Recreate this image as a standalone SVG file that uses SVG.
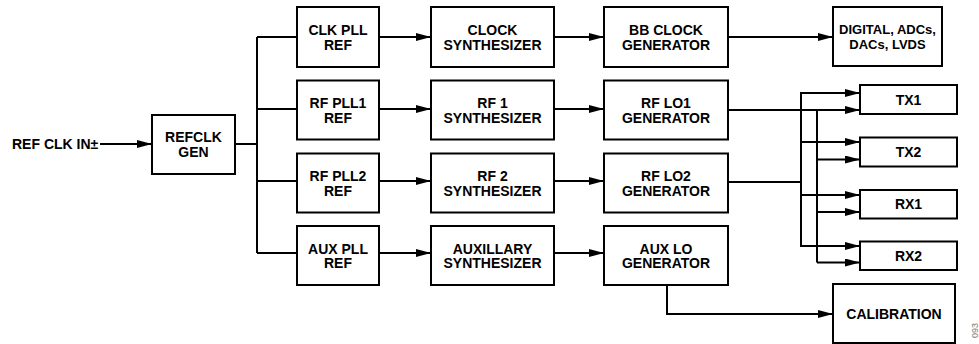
<svg xmlns="http://www.w3.org/2000/svg" width="979" height="344" viewBox="0 0 979 344">
  <style>
    .box { fill: #fff; stroke: #000; stroke-width: 2; }
    .lbl { font-family: "Liberation Sans", Arial, sans-serif; font-weight: bold; font-size: 14px; fill: #000; text-anchor: middle; }
    .sm { font-size: 13px; }
    .in { font-family: "Liberation Sans", Arial, sans-serif; font-weight: bold; font-size: 14px; fill: #000; }
    .wire { fill: none; stroke: #000; stroke-width: 2; }
    .arr { fill: none; stroke: #000; stroke-width: 2; marker-end: url(#ah); }
    .code { font-family: "Liberation Sans", Arial, sans-serif; font-size: 9px; fill: #777; text-anchor: end; }
  </style>
  <defs>
    <marker id="ah" markerUnits="userSpaceOnUse" markerWidth="15" markerHeight="8" refX="15" refY="4" orient="auto">
      <path d="M0,0 L15,4 L0,8 Z" fill="#000"/>
    </marker>
  </defs>
  <rect width="979" height="344" fill="#fff"/>

  <g id="connectors">
    <path class="arr" d="M100,144 H152"/>
    <path class="wire" d="M235,144 H257"/>
    <path class="wire" d="M257,37 V253"/>
    <path class="wire" d="M257,37 H297"/>
    <path class="wire" d="M257,109 H297"/>
    <path class="wire" d="M257,181 H297"/>
    <path class="wire" d="M257,253 H297"/>
    <path class="arr" d="M379,37 H431"/>
    <path class="arr" d="M379,109 H431"/>
    <path class="arr" d="M379,181 H431"/>
    <path class="arr" d="M379,253 H431"/>
    <path class="arr" d="M554,37 H604"/>
    <path class="arr" d="M554,109 H604"/>
    <path class="arr" d="M554,181 H604"/>
    <path class="arr" d="M554,253 H604"/>
    <path class="arr" d="M728,37 H833"/>
    <!-- RF LO1 -->
    <path class="arr" d="M728,110 H860"/>
    <path class="wire" d="M817,110 V262.5"/>
    <path class="arr" d="M817,159.5 H860"/>
    <path class="arr" d="M817,212 H860"/>
    <path class="arr" d="M817,262.5 H860"/>
    <!-- RF LO2 -->
    <path class="wire" d="M728,182 H801"/>
    <path class="wire" d="M801,93 V246"/>
    <path class="arr" d="M800,93 H860"/>
    <path class="arr" d="M800,142 H860"/>
    <path class="arr" d="M800,195 H860"/>
    <path class="arr" d="M800,246 H860"/>
    <!-- AUX LO to calibration -->
    <path class="arr" d="M667,285 V314 H833"/>
  </g>

  <text class="in" x="12" y="149">REF CLK IN±</text>

  <g id="refclk-gen">
    <rect class="box" x="152" y="115" width="83" height="59"/>
    <text class="lbl" x="193.5" y="142">REFCLK</text>
    <text class="lbl" x="193.5" y="156.5">GEN</text>
  </g>

  <g id="clk-pll-ref">
    <rect class="box" x="297" y="7" width="82" height="60"/>
    <text class="lbl" x="338" y="35">CLK PLL</text>
    <text class="lbl" x="338" y="49.5">REF</text>
  </g>
  <g id="rf-pll1-ref">
    <rect class="box" x="297" y="80.5" width="82" height="59"/>
    <text class="lbl" x="338" y="108">RF PLL1</text>
    <text class="lbl" x="338" y="122.5">REF</text>
  </g>
  <g id="rf-pll2-ref">
    <rect class="box" x="297" y="153.5" width="82" height="59"/>
    <text class="lbl" x="338" y="181">RF PLL2</text>
    <text class="lbl" x="338" y="195.5">REF</text>
  </g>
  <g id="aux-pll-ref">
    <rect class="box" x="297" y="226" width="82" height="59"/>
    <text class="lbl" x="338" y="253.5">AUX PLL</text>
    <text class="lbl" x="338" y="268">REF</text>
  </g>

  <g id="clock-synth">
    <rect class="box" x="431" y="7" width="123" height="60"/>
    <text class="lbl" x="492.5" y="35">CLOCK</text>
    <text class="lbl" x="492.5" y="49.5">SYNTHESIZER</text>
  </g>
  <g id="rf1-synth">
    <rect class="box" x="431" y="80.5" width="123" height="59"/>
    <text class="lbl" x="492.5" y="108">RF 1</text>
    <text class="lbl" x="492.5" y="122.5">SYNTHESIZER</text>
  </g>
  <g id="rf2-synth">
    <rect class="box" x="431" y="153.5" width="123" height="59"/>
    <text class="lbl" x="492.5" y="181">RF 2</text>
    <text class="lbl" x="492.5" y="195.5">SYNTHESIZER</text>
  </g>
  <g id="aux-synth">
    <rect class="box" x="431" y="226" width="123" height="59"/>
    <text class="lbl" x="492.5" y="253.5">AUXILLARY</text>
    <text class="lbl" x="492.5" y="268">SYNTHESIZER</text>
  </g>

  <g id="bb-clock-gen">
    <rect class="box" x="604" y="7" width="124" height="60"/>
    <text class="lbl" x="666" y="35">BB CLOCK</text>
    <text class="lbl" x="666" y="49.5">GENERATOR</text>
  </g>
  <g id="rf-lo1-gen">
    <rect class="box" x="604" y="80.5" width="124" height="59"/>
    <text class="lbl" x="666" y="108">RF LO1</text>
    <text class="lbl" x="666" y="122.5">GENERATOR</text>
  </g>
  <g id="rf-lo2-gen">
    <rect class="box" x="604" y="153.5" width="124" height="59"/>
    <text class="lbl" x="666" y="181">RF LO2</text>
    <text class="lbl" x="666" y="195.5">GENERATOR</text>
  </g>
  <g id="aux-lo-gen">
    <rect class="box" x="604" y="226" width="124" height="59"/>
    <text class="lbl" x="666" y="253.5">AUX LO</text>
    <text class="lbl" x="666" y="268">GENERATOR</text>
  </g>

  <g id="digital">
    <rect class="box" x="833" y="7" width="109" height="59"/>
    <text class="lbl sm" x="887.5" y="34">DIGITAL, ADCs,</text>
    <text class="lbl sm" x="887.5" y="48.5">DACs, LVDS</text>
  </g>
  <g id="tx1">
    <rect class="box" x="860" y="85" width="97" height="29"/>
    <text class="lbl" x="908.5" y="104.5">TX1</text>
  </g>
  <g id="tx2">
    <rect class="box" x="860" y="137.5" width="97" height="29"/>
    <text class="lbl" x="908.5" y="157">TX2</text>
  </g>
  <g id="rx1">
    <rect class="box" x="860" y="190" width="97" height="28.5"/>
    <text class="lbl" x="908.5" y="209">RX1</text>
  </g>
  <g id="rx2">
    <rect class="box" x="860" y="241.5" width="97" height="28.5"/>
    <text class="lbl" x="908.5" y="261">RX2</text>
  </g>
  <g id="calibration">
    <rect class="box" x="833" y="284" width="122" height="59"/>
    <text class="lbl" x="894" y="318.5">CALIBRATION</text>
  </g>

  <text class="code" transform="translate(978,323) rotate(-90)">093</text>
</svg>
